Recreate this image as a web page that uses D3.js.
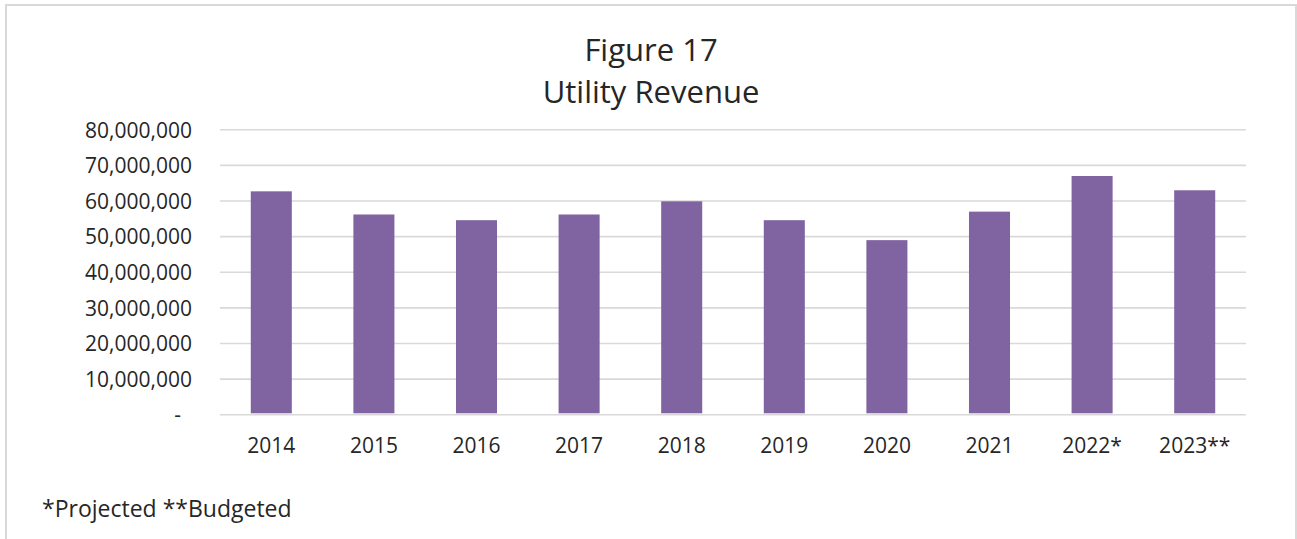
<!DOCTYPE html>
<html>
<head>
<meta charset="utf-8">
<script src="https://cdn.jsdelivr.net/npm/d3@7"></script>
<style>
  body { margin: 0; background: #fff; }
  text { font-family: 'Open Sans', sans-serif; fill: #262626; }
</style>
</head>
<body>
<div id="chart"></div>
<script>
// Chart data
const years = ['2014', '2015', '2016', '2017', '2018', '2019', '2020', '2021', '2022*', '2023**'];
const revenue = [62700000, 56200000, 54600000, 56200000, 59900000, 54600000, 49000000, 57000000, 67000000, 63000000];
const yTicks = [0, 10000000, 20000000, 30000000, 40000000, 50000000, 60000000, 70000000, 80000000];
const titleLines = ['Figure 17', 'Utility Revenue'];
const footnote = '*Projected **Budgeted';

const width = 1297;
const height = 539;
const plot = { left: 220, right: 1246, top: 129.7, bottom: 414.7 };

const svg = d3.select('#chart')
  .append('svg')
  .attr('width', width)
  .attr('height', height);

// Outer frame
svg.append('rect')
  .attr('x', 6)
  .attr('y', 5)
  .attr('width', 1290)
  .attr('height', 560)
  .attr('fill', '#fff')
  .attr('stroke', '#d9d9d9')
  .attr('stroke-width', 2);

const x = d3.scaleBand()
  .domain(years)
  .range([plot.left, plot.right])
  .paddingInner(0.6)
  .paddingOuter(0.3);

const y = d3.scaleLinear()
  .domain([0, 80000000])
  .range([plot.bottom, plot.top]);

// Gridlines
svg.append('g')
  .selectAll('line')
  .data(yTicks)
  .join('line')
  .attr('x1', plot.left)
  .attr('x2', plot.right)
  .attr('y1', d => y(d))
  .attr('y2', d => y(d))
  .attr('stroke', '#d9d9d9')
  .attr('stroke-width', 1.6);

// Y axis labels
const fmt = d3.format(',');
const yAxis = svg.append('g')
  .attr('transform', `translate(192,0)`)
  .call(d3.axisLeft(y).tickValues(yTicks).tickSize(0).tickPadding(0)
    .tickFormat(d => d === 0 ? '-' : fmt(d)));
yAxis.select('.domain').remove();
yAxis.selectAll('text')
  .attr('font-size', 21)
  .attr('font-family', "'Open Sans', sans-serif")
  .attr('fill', '#262626')
  .attr('dy', '0.35em')
  .filter(d => d === 0)
  .attr('dx', -11)
  .attr('dy', '0.3em');

// Bars
svg.append('g')
  .selectAll('rect')
  .data(years)
  .join('rect')
  .attr('x', d => x(d))
  .attr('width', x.bandwidth())
  .attr('y', (d, i) => y(revenue[i]))
  .attr('height', (d, i) => y(0) - 1.4 - y(revenue[i]))
  .attr('fill', '#8064a2');

// X axis labels
const xAxis = svg.append('g')
  .attr('transform', `translate(0,${plot.bottom})`)
  .call(d3.axisBottom(x).tickSize(0).tickPadding(0));
xAxis.select('.domain').remove();
xAxis.selectAll('text')
  .attr('font-size', 21)
  .attr('font-family', "'Open Sans', sans-serif")
  .attr('fill', '#262626')
  .attr('y', 38.6)
  .attr('dy', 0);

// Title
svg.append('g')
  .selectAll('text')
  .data(titleLines)
  .join('text')
  .attr('x', 651)
  .attr('y', (d, i) => i === 0 ? 60.7 : 103.3)
  .attr('text-anchor', 'middle')
  .attr('font-size', 31)
  .text(d => d);

// Footnote
svg.append('text')
  .attr('x', 42)
  .attr('y', 517.3)
  .attr('font-size', 23)
  .text(footnote);
</script>
</body>
</html>
